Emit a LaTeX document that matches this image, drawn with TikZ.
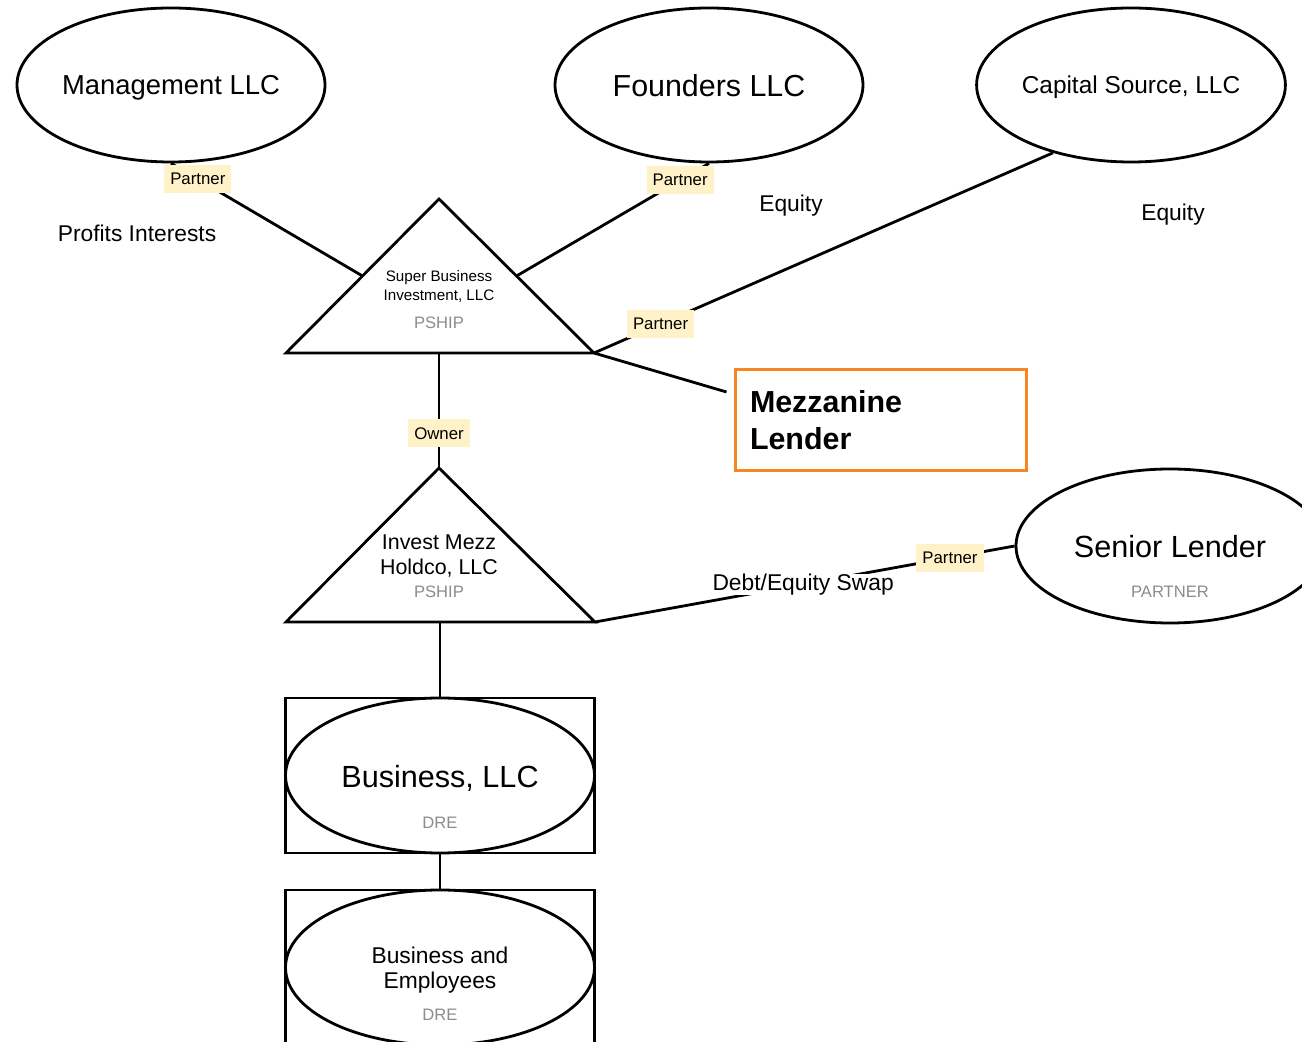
\documentclass[tikz,border=0pt]{standalone}
\usepackage{fontspec}
\setmainfont{Liberation Sans}
\usetikzlibrary{shapes.geometric,calc}

\definecolor{tagfill}{RGB}{255,241,200}
\definecolor{mezzorange}{RGB}{245,134,34}
\definecolor{subgray}{RGB}{140,140,140}

\tikzset{
  entity/.style={ellipse, draw, line width=1.4pt, minimum width=154pt, minimum height=77pt, inner sep=0pt, text depth=0pt, align=center},
  dreframe/.style={rectangle, draw, line width=1.4pt, minimum width=154.5pt, minimum height=77.5pt, inner sep=0pt},
  conn/.style={line width=1.4pt},
  partnertag/.style={fill=tagfill, inner xsep=3pt, inner ysep=0pt, minimum height=14pt, font=\fontsize{8.4}{10}\selectfont},
  subtype/.style={text=subgray, inner sep=0pt, font=\fontsize{8.3}{10}\selectfont},
  freenote/.style={inner sep=0pt, text depth=0pt, font=\fontsize{11.4}{13}\selectfont},
}

\begin{document}
\begin{tikzpicture}[x=0.5pt, y=-0.5pt]
    \useasboundingbox (0,0) rectangle (1302,1042);
    \clip (0,0) rectangle (1302,1042);

    % Owners
    \node[entity, font=\fontsize{13.7}{16}\selectfont] (mgmt) at (171,85) {Management LLC};
    \node[entity, font=\fontsize{15.2}{18}\selectfont] (founders) at (709,85) {Founders LLC};
    \node[entity, font=\fontsize{12.2}{15}\selectfont] (capital) at (1131,85) {Capital Source, LLC};

    % Super Business Investment (triangle)
    \draw[conn] (286,353) coordinate (sbi-l) -- coordinate (sbi-ml) (439,199) coordinate (sbi-t)
        -- coordinate (sbi-mr) (594,353) coordinate (sbi-r) -- cycle;
    \coordinate (sbi-b) at (439,353);
    \node[align=center, inner sep=0pt, font=\fontsize{7.6}{9.5}\selectfont] (sbi) at (439,286.5) {Super Business\\Investment, LLC};
    \node[subtype] (sbi-type) at (439,323) {PSHIP};

    % Mezzanine lender
    \node[draw=mezzorange, line width=1.5pt, minimum width=145.5pt, minimum height=50.5pt,
          text width=130.5pt, inner xsep=7.5pt, align=left,
          font=\fontsize{15.2}{18.5}\selectfont\bfseries] (mezz) at (880.5,420.5) {Mezzanine\\Lender};

    % Invest Mezz Holdco (triangle)
    \draw[conn] (286,622) coordinate (imh-l) -- (439,468) coordinate (imh-t)
        -- (595,622) coordinate (imh-r) -- cycle;
    \coordinate (imh-b) at (440,622);
    \node[align=center, inner sep=0pt, font=\fontsize{10.7}{12.5}\selectfont] (imh) at (439,556) {Invest Mezz\\Holdco, LLC};
    \node[subtype] (imh-type) at (439,592) {PSHIP};

    % Senior lender
    \node[entity, font=\fontsize{15.3}{18}\selectfont] (senior) at (1170,546) {Senior Lender};
    \node[subtype] (senior-type) at (1170,592) {PARTNER};

    % Business
    \node[dreframe] (bizbox) at (440,775.5) {};
    \node[entity, minimum width=154.5pt, minimum height=77.5pt] (biz) at (440,775.5) {};
    \node[inner sep=0pt, font=\fontsize{15.3}{18}\selectfont] (biz-name) at (440,778) {Business, LLC};
    \node[subtype] (biz-type) at (440,823) {DRE};

    \node[dreframe] (empbox) at (440,967.5) {};
    \node[entity, minimum width=154.5pt, minimum height=77.5pt] (emp) at (440,967.5) {};
    \node[align=center, inner sep=0pt, font=\fontsize{11.4}{12.5}\selectfont] (emp-name) at (440,970.5) {Business and\\Employees};
    \node[subtype] (emp-type) at (440,1015) {DRE};

    % Free notes
    \node[freenote] (profits) at (137,233) {Profits Interests};
    \node[freenote] (equity-f) at (791,203) {Equity};
    \node[freenote] (equity-c) at (1173,212) {Equity};

    % Connectors
    \draw[conn] (mgmt.south) -- node[partnertag, pos=0.14] (mgmt-tag) {Partner} (sbi-ml);
    \draw[conn] (founders.south) -- node[partnertag, pos=0.15] (founders-tag) {Partner} (sbi-mr);
    \draw[conn] (capital.221) -- node[partnertag, pos=0.855] (capital-tag) {Partner} (sbi-r);
    \draw[conn] (sbi-r) -- ($(mezz.west)+(-7,-28.5)$);
    \draw[conn] (sbi-b) -- node[partnertag, pos=0.7] (owner-tag) {Owner} (imh-t);
    \draw[conn] (imh-r) -- node[fill=white, inner xsep=1pt, inner ysep=0pt, pos=0.496, font=\fontsize{11.4}{13}\selectfont] (swap) {Debt/Equity Swap}
        node[partnertag, pos=0.846] (senior-tag) {Partner} (senior.west);
    \draw[conn] (imh-b) -- (bizbox.north);
    \draw[conn] (bizbox.south) -- (empbox.north);
\end{tikzpicture}
\end{document}
